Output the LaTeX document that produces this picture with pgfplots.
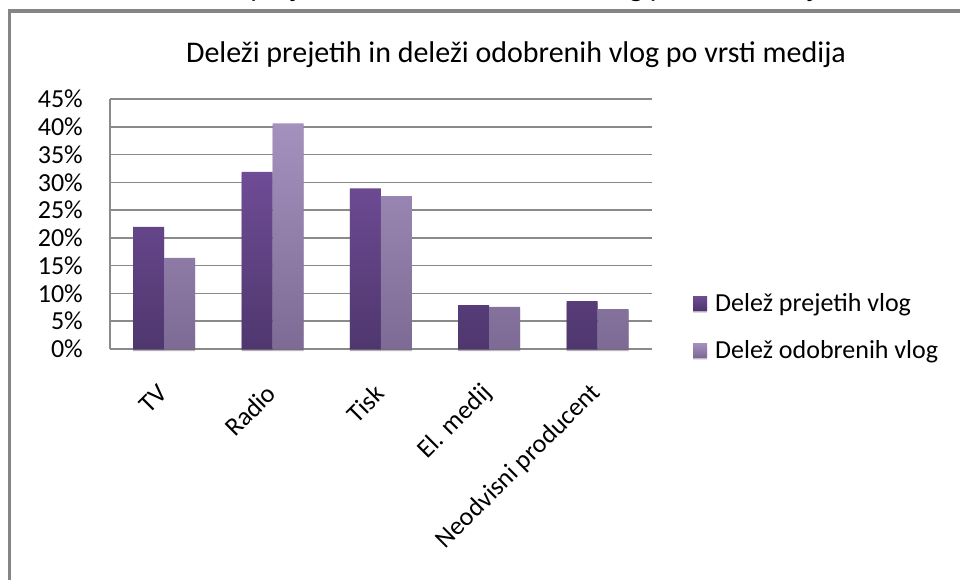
\documentclass[border=0pt]{standalone}
\usepackage{fontspec}
\setmainfont{Carlito}
\usepackage{pgfplots}
\pgfplotsset{compat=1.18}
\usetikzlibrary{shadows}
\definecolor{darktop}{HTML}{6F4C96}
\definecolor{darkbot}{HTML}{4F376E}
\definecolor{lighttop}{HTML}{A591BE}
\definecolor{lightbot}{HTML}{7D6B95}
\definecolor{gridgray}{HTML}{8A8A8A}
\definecolor{framegray}{HTML}{858585}

\begin{document}
\begin{tikzpicture}[x=1pt,y=1pt]
\path[use as bounding box] (0,0) rectangle (960,579);
% caption of the page above, cut off by the screenshot
\node[font=\fontsize{30}{34}\selectfont, anchor=base] at (500,582) {Deleži prejetih in deleži odobrenih vlog po vrsti medija};
\node[font=\fontsize{30}{34}\selectfont] at (516,524) {Deleži prejetih in deleži odobrenih vlog po vrsti medija};
% frame of the chart area (continues past the right and bottom edges)
\fill[framegray] (8,-20) rectangle (11,570);
\fill[framegray] (8,566) rectangle (960,570);
\begin{axis}[
  at={(110pt,230pt)}, anchor=south west,
  scale only axis,
  width=541.7pt, height=250pt,
  ybar=0pt, bar width=31pt,
  xmin=-0.5, xmax=4.5,
  ymin=0, ymax=45,
  xtick={0,1,2,3,4},
  xticklabels={TV,Radio,Tisk,El. medij,Neodvisni producent},
  ytick={0,5,10,15,20,25,30,35,40,45},
  yticklabels={0\%,5\%,10\%,15\%,20\%,25\%,30\%,35\%,40\%,45\%},
  axis x line*=bottom, axis y line*=left,
  axis line style={gridgray, line width=1.5pt, -},
  major tick length=0pt,
  ymajorgrids=true,
  grid style={gridgray, line width=1.5pt},
  tick label style={font=\fontsize{26}{30}\selectfont, inner sep=0pt},
  yticklabel style={anchor=east, xshift=-27pt},
  xticklabel style={xshift=-1pt, yshift=-40pt, rotate=45, anchor=east},
  legend style={at={(1.0763,0.082)}, anchor=west, draw=none, fill=none,
    inner sep=0pt, font=\fontsize{26}{30}\selectfont, row sep=23pt,
    nodes={inner sep=0pt, anchor=west, text height=18pt, text depth=6pt}},
  legend cell align=left,
  clip=false,
]
\addplot[draw=none, top color=darktop, bottom color=darkbot,
  drop shadow={shadow xshift=0pt, shadow yshift=-2pt, opacity=0.2, fill=black},
  legend image code/.code={\path[top color=darktop, bottom color=darkbot] (0pt,-5pt) rectangle (14pt,9pt); \path (14pt,0) -- (22pt,0);}]
  coordinates {(0,22.0) (1,31.9) (2,28.9) (3,7.9) (4,8.6)};
\addplot[draw=none, top color=lighttop, bottom color=lightbot,
  drop shadow={shadow xshift=0pt, shadow yshift=-2pt, opacity=0.2, fill=black},
  legend image code/.code={\path[top color=lighttop, bottom color=lightbot] (0pt,-5pt) rectangle (14pt,9pt); \path (14pt,0) -- (22pt,0);}]
  coordinates {(0,16.4) (1,40.6) (2,27.5) (3,7.6) (4,7.2)};
\legend{Delež prejetih vlog, Delež odobrenih vlog}
\end{axis}
\end{tikzpicture}
\end{document}
